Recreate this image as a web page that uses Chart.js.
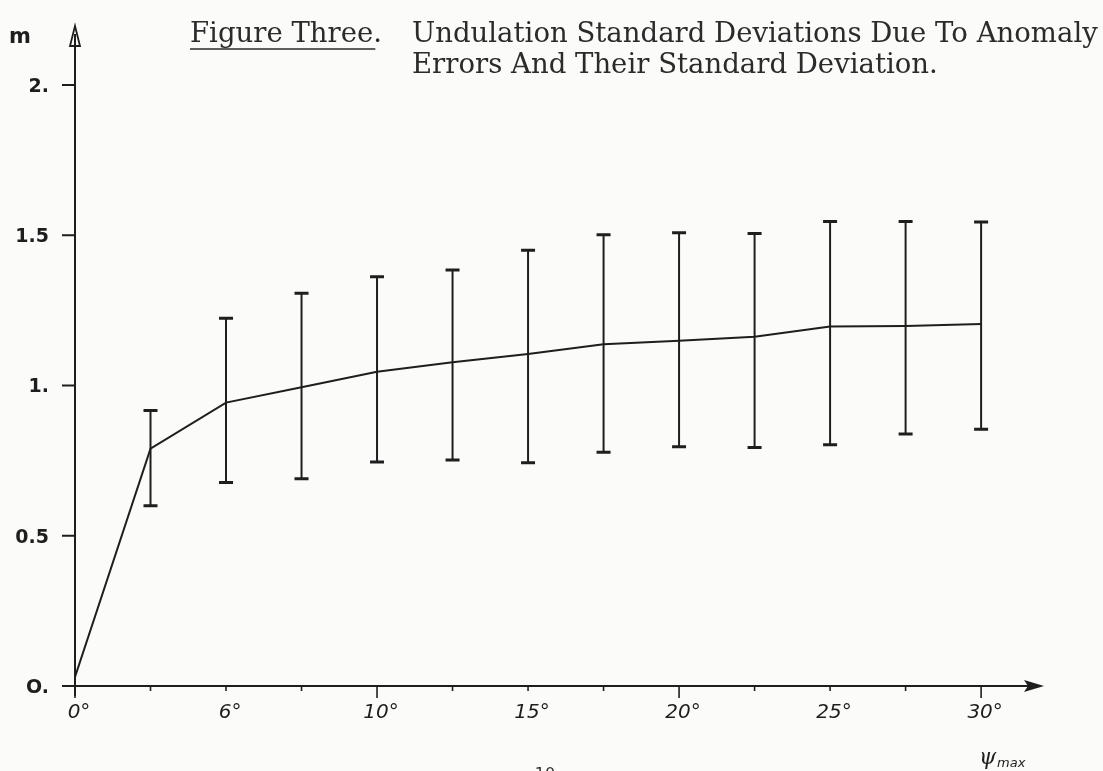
<!DOCTYPE html>
<html><head><meta charset="utf-8">
<script src="https://cdn.jsdelivr.net/npm/chart.js@4"></script>
<style>html,body{margin:0;padding:0;background:#fbfbfa;overflow:hidden}#wrap{width:1103px;height:771px;position:relative}</style>
</head><body><div id="wrap"><canvas id="c" width="1103" height="771"></canvas></div>
<script>
// ---- data ----
const angles = [0, 2.5, 5, 7.5, 10, 12.5, 15, 17.5, 20, 22.5, 25, 27.5, 30];
const means  = [0.03, 0.79, 0.943, 0.994, 1.046, 1.077, 1.105, 1.137, 1.149, 1.162, 1.196, 1.198, 1.205];
const upper  = [null, 0.917, 1.224, 1.307, 1.362, 1.384, 1.45, 1.502, 1.508, 1.506, 1.546, 1.546, 1.544];
const lower  = [null, 0.60, 0.677, 0.690, 0.745, 0.752, 0.743, 0.778, 0.796, 0.794, 0.803, 0.839, 0.854];
const xMinorTicks = [2.5, 5, 7.5, 12.5, 15, 17.5, 22.5, 25, 27.5];
const xMajorTicks = [0, 10, 20, 30];
const xTickValues = [0, 5, 10, 15, 20, 25, 30];
const xTickLabels = ["0°", "6°", "10°", "15°", "20°", "25°", "30°"];
const yTickValues = [0, 0.5, 1, 1.5, 2];
const yTickLabels = ["O.", "0.5", "1.", "1.5", "2."];
const titleLead = "Figure Three";
const titleLine1 = "Undulation Standard Deviations Due To Anomaly";
const titleLine2 = "Errors And Their Standard Deviation.";
const yUnit = "m";

const INK = "#1e1e1e";

function fitFont(ctx, text, family, targetW, base) {
  ctx.font = `${base}px ${family}`;
  const w = ctx.measureText(text).width;
  return base * targetW / w;
}

const decor = {
  id: 'decor',
  afterDatasetsDraw(chart) {
    const ctx = chart.ctx;
    const xs = chart.scales.x, ys = chart.scales.y;
    const x0 = xs.getPixelForValue(0), y0 = ys.getPixelForValue(0);
    const xEnd = xs.getPixelForValue(xs.max), yTop = ys.getPixelForValue(ys.max);
    ctx.save();
    ctx.strokeStyle = INK; ctx.fillStyle = INK;
    // error bars
    for (let i = 0; i < angles.length; i++) {
      if (upper[i] == null) continue;
      const px = xs.getPixelForValue(angles[i]);
      const pt = ys.getPixelForValue(upper[i]);
      const pb = ys.getPixelForValue(lower[i]);
      ctx.lineWidth = 2;
      ctx.beginPath(); ctx.moveTo(px, pt); ctx.lineTo(px, pb); ctx.stroke();
      ctx.lineWidth = 3;
      ctx.beginPath(); ctx.moveTo(px - 7, pt); ctx.lineTo(px + 7, pt);
      ctx.moveTo(px - 7, pb); ctx.lineTo(px + 7, pb); ctx.stroke();
    }
    // axes
    ctx.lineWidth = 2;
    ctx.beginPath();
    ctx.moveTo(x0, y0 + 10); ctx.lineTo(x0, yTop + 4);
    ctx.moveTo(x0 - 8, y0); ctx.lineTo(xEnd - 4, y0);
    ctx.stroke();
    // arrows
    ctx.lineWidth = 1.8;
    ctx.beginPath();
    ctx.moveTo(x0, yTop - 4); ctx.lineTo(x0 - 5, yTop + 16); ctx.lineTo(x0 + 5, yTop + 16); ctx.closePath();
    ctx.stroke();
    ctx.beginPath();
    ctx.moveTo(xEnd + 4, y0); ctx.lineTo(xEnd - 16, y0 - 6); ctx.lineTo(xEnd - 12, y0); ctx.lineTo(xEnd - 16, y0 + 6); ctx.closePath();
    ctx.fill();
    // y ticks
    ctx.lineWidth = 2;
    yTickValues.forEach((v) => {
      const py = ys.getPixelForValue(v);
      ctx.beginPath(); ctx.moveTo(x0 - 13, py); ctx.lineTo(x0, py); ctx.stroke();
    });
    // x ticks
    ctx.lineWidth = 1.6;
    xMinorTicks.forEach((v) => {
      const px = xs.getPixelForValue(v);
      ctx.beginPath(); ctx.moveTo(px, y0); ctx.lineTo(px, y0 + 5); ctx.stroke();
    });
    xMajorTicks.forEach((v) => {
      const px = xs.getPixelForValue(v);
      ctx.beginPath(); ctx.moveTo(px, y0); ctx.lineTo(px, y0 + 12); ctx.stroke();
    });
    // y tick labels
    ctx.font = "bold 19px 'DejaVu Sans'";
    ctx.textAlign = "right"; ctx.textBaseline = "middle";
    yTickValues.forEach((v, i) => {
      ctx.fillText(yTickLabels[i], x0 - 26, ys.getPixelForValue(v) + 2);
    });
    ctx.font = "bold 21px 'DejaVu Sans'";
    ctx.textAlign = "left";
    ctx.fillText(yUnit, 9, 38);
    // x tick labels
    ctx.font = "italic 20px 'DejaVu Sans'";
    ctx.textAlign = "center"; ctx.textBaseline = "middle";
    xTickValues.forEach((v, i) => {
      ctx.fillText(xTickLabels[i], xs.getPixelForValue(v) + 4, y0 + 27);
    });
    // psi max
    const px30 = xs.getPixelForValue(30);
    ctx.font = "italic 22px 'DejaVu Serif'";
    ctx.textAlign = "left";
    ctx.fillText("ψ", px30 - 2, y0 + 72);
    ctx.font = "italic 13px 'DejaVu Sans'";
    ctx.fillText("max", px30 + 16, y0 + 78);
    // title
    ctx.fillStyle = "#2b2b2b";
    ctx.textAlign = "left"; ctx.textBaseline = "alphabetic";
    const fam = "'DejaVu Serif'";
    const fs = fitFont(ctx, titleLine1, fam, 686, 18);
    ctx.font = `${fs}px ${fam}`;
    ctx.fillText(titleLine1, 412, 42);
    ctx.fillText(titleLine2, 412, 73);
    const lw = ctx.measureText(titleLead).width;
    ctx.fillText(titleLead + ".", 190, 42);
    ctx.lineWidth = 1.3; ctx.strokeStyle = "#2b2b2b";
    ctx.beginPath(); ctx.moveTo(190, 49); ctx.lineTo(190 + lw + 2, 49); ctx.stroke();
    // page number (cut off at bottom)
    ctx.font = "16px 'DejaVu Sans'";
    ctx.fillStyle = "#333";
    ctx.textAlign = "center"; ctx.textBaseline = "alphabetic";
    ctx.fillText("- 10 -", 545, 779);
    ctx.restore();
  }
};

new Chart(document.getElementById('c'), {
  type: 'line',
  data: {
    datasets: [{
      data: angles.map((a, i) => ({ x: a, y: means[i] })),
      borderColor: INK,
      borderWidth: 2,
      pointRadius: 0,
      tension: 0,
      fill: false
    }]
  },
  options: {
    responsive: false,
    devicePixelRatio: 1,
    animation: false,
    layout: { padding: { left: 75, right: 63, top: 30, bottom: 85 } },
    plugins: { legend: { display: false }, tooltip: { enabled: false } },
    scales: {
      x: { type: 'linear', min: 0, max: 31.95, display: false },
      y: { type: 'linear', min: 0, max: 2.183, display: false }
    }
  },
  plugins: [decor]
});
</script></body></html>
